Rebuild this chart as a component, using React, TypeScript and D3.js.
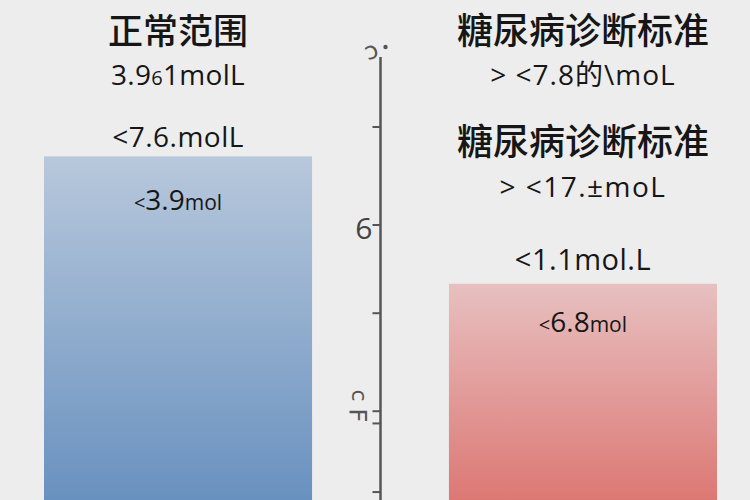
import React from "react";
import * as d3 from "d3";

const categories = ["正常范围", "糖尿病诊断标准"];
const values = [7.4, 4.8];
const axisTop = 9.43;
const tickValues = [8, 6, 4.2, 2.2, 1.95, 0.55];
const tickLabels = ["", "6", "", "", "", ""];

const leftLines = ["3.9", "6", "1molL"];
const leftAbove = "<7.6.molL";
const rightTitle2 = "糖尿病诊断标准";
const rightLine1 = "> <7.8的\\moL";
const rightLine2 = "> <17.±moL";
const rightAbove = "<1.1mol.L";
const barInner = [["<", "3.9", "mol"], ["<", "6.8", "mol"]];

const W = 750;
const H = 500;

export default function App() {
  const x = d3.scaleBand<string>().domain(categories).range([44, 717]).paddingInner(0.338).paddingOuter(0);
  const y = d3.scaleLinear().domain([0, 10]).range([519, 29]);
  const axisX = (x(categories[0])! + x.bandwidth() + x(categories[1])!) / 2;
  const cx = categories.map((c) => x(c)! + x.bandwidth() / 2);
  const latin = "'Open Sans', 'Noto Sans', sans-serif";
  const cjk = "'Noto Sans CJK SC', sans-serif";
  const gradients = [
    ["#b8c8dc", "#6991bf"],
    ["#e7c0c0", "#dc7874"],
  ];
  return (
    <svg width={W} height={H} style={{ position: "fixed", left: 0, top: 0 }}>
      <defs>
        {gradients.map((g, i) => (
          <linearGradient key={i} id={`g${i}`} x1="0" y1="0" x2="0" y2="1">
            <stop offset="0%" stopColor={g[0]} />
            <stop offset="100%" stopColor={g[1]} />
          </linearGradient>
        ))}
      </defs>
      <rect width={W} height={H} fill="#ededed" />
      {categories.map((c, i) => (
        <rect key={c} x={x(c)} y={y(values[i])} width={x.bandwidth()} height={H - y(values[i])} fill={`url(#g${i})`} />
      ))}
      {/* axis */}
      <line x1={axisX} x2={axisX} y1={y(axisTop)} y2={H} stroke="#555" strokeWidth={2.5} />
      {tickValues.map((t, i) => (
        <g key={i}>
          <line x1={axisX - 8} x2={axisX} y1={y(t)} y2={y(t)} stroke="#555" strokeWidth={2} />
          {tickLabels[i] && (
            <text x={axisX - 8} y={y(t) + 14} textAnchor="end" fontFamily={latin} fontWeight={400} fontSize={30} fill="#444">
              {tickLabels[i]}
            </text>
          )}
        </g>
      ))}
      <text x={axisX - 10} y={y(axisTop) + 2} fontFamily="'DejaVu Sans', sans-serif" fontSize={24} fill="#555" textAnchor="middle" transform={`rotate(-20 ${axisX - 10} ${y(axisTop) - 8})`}>ɔ</text>
      <circle cx={axisX + 5} cy={y(axisTop) - 10} r={2.2} fill="#555" />
      <text x={axisX - 22} y={y(2.4)} fontFamily="'DejaVu Sans', sans-serif" fontSize={22} fill="#555" textAnchor="middle" transform={`rotate(-90 ${axisX - 22} ${y(2.4) - 6})`}>ɔ</text>
      <text x={axisX - 20} y={y(1.95)} fontFamily="'DejaVu Sans', sans-serif" fontSize={24} fill="#555" textAnchor="middle" transform={`rotate(-90 ${axisX - 20} ${y(1.95) - 7})`}>Ⅎ</text>

      {/* left column */}
      <g fontFamily={latin} fill="#161616" textAnchor="middle">
        <text x={cx[0]} y={44} fontFamily={cjk} fontSize={35} fontWeight={500}>{categories[0]}</text>
        <text x={cx[0]} y={85} fontSize={28} letterSpacing={0.3}>
          <tspan>{leftLines[0]}</tspan>
          <tspan fontSize={20}>{leftLines[1]}</tspan>
          <tspan>{leftLines[2]}</tspan>
        </text>
        <text x={cx[0]} y={147} fontSize={28} letterSpacing={0.5}>{leftAbove}</text>
        <text x={cx[0]} y={210}>
          <tspan fontSize={20}>{barInner[0][0]}</tspan>
          <tspan fontSize={28} fontWeight={500}>{barInner[0][1]}</tspan>
          <tspan fontSize={21}>{barInner[0][2]}</tspan>
        </text>
      </g>

      {/* right column */}
      <g fontFamily={latin} fill="#161616" textAnchor="middle">
        <text x={cx[1]} y={44} fontFamily={cjk} fontSize={36} fontWeight={500}>{categories[1]}</text>
        <text x={cx[1]} y={85} fontSize={28} letterSpacing={1} fontFamily={`'Open Sans', ${cjk}`}>{rightLine1}</text>
        <text x={cx[1]} y={155} fontFamily={cjk} fontSize={36} fontWeight={500}>{rightTitle2}</text>
        <text x={cx[1]} y={197} fontSize={28} letterSpacing={1.5}>{rightLine2}</text>
        <text x={cx[1]} y={270} fontSize={29} letterSpacing={0.5}>{rightAbove}</text>
        <text x={cx[1]} y={332}>
          <tspan fontSize={20}>{barInner[1][0]}</tspan>
          <tspan fontSize={28} fontWeight={500}>{barInner[1][1]}</tspan>
          <tspan fontSize={21}>{barInner[1][2]}</tspan>
        </text>
      </g>
    </svg>
  );
}
